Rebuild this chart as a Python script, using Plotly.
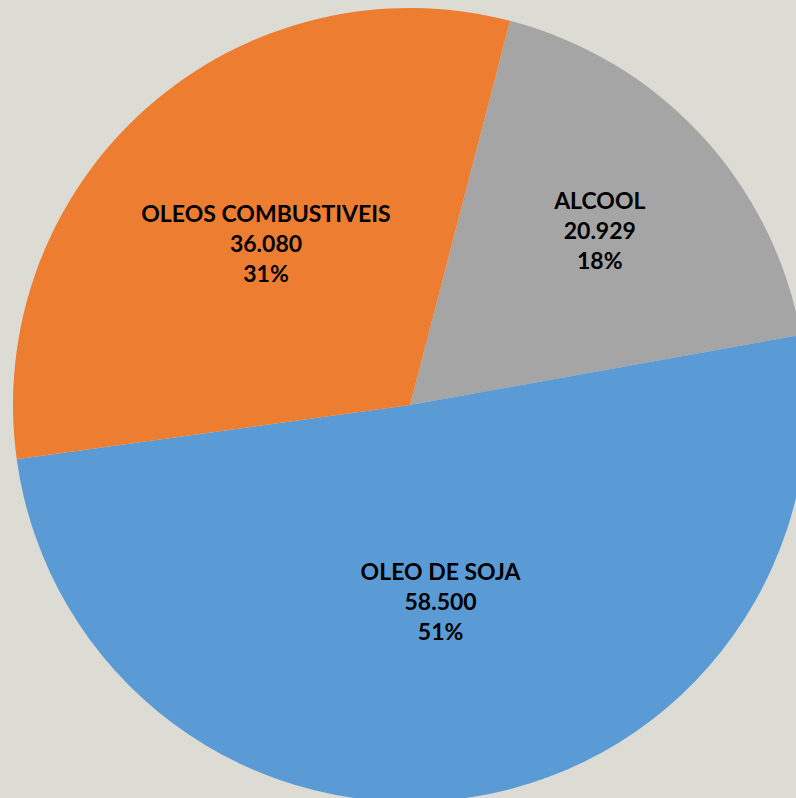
import plotly.graph_objects as go

categories = ["ALCOOL", "OLEO DE SOJA", "OLEOS COMBUSTIVEIS"]
values = [20929, 58500, 36080]
colors = ["#A5A5A5", "#5B9BD5", "#ED7D31"]

fig = go.Figure(go.Pie(
    labels=categories,
    values=values,
    sort=False,
    direction="clockwise",
    rotation=14.6,
    marker=dict(colors=colors, line=dict(width=0)),
    texttemplate="<b>%{label}</b><br><b>%{value:,}</b><br><b>%{percent:.0%}</b>",
    textposition="inside",
    insidetextorientation="horizontal",
    textfont=dict(family="Lato", size=23, color="#000000"),
    showlegend=False,
    hoverinfo="skip",
))

fig.update_layout(
    width=820, height=820,
    margin=dict(l=13, r=13, t=8, b=18),
    paper_bgcolor="#DCDCD4",
    plot_bgcolor="#DCDCD4",
    separators=",.",
    uniformtext=dict(minsize=23, mode="show"),
)

fig.write_html(
    "out.html",
    config={"displayModeBar": False},
    post_script="document.body.style.margin='0';document.body.style.overflow='hidden';document.documentElement.style.overflow='hidden';",
)
